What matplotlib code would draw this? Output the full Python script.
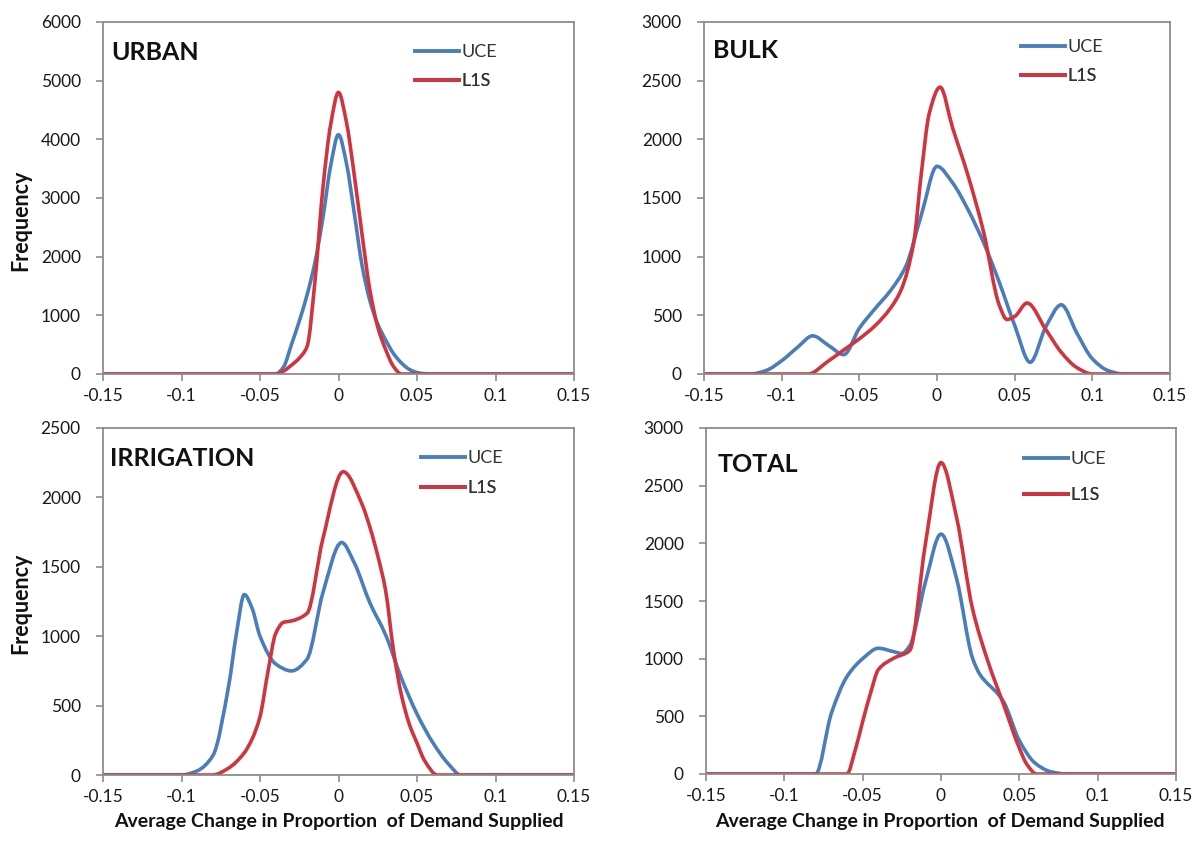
import numpy as np
import matplotlib
matplotlib.use("Agg")
import matplotlib.pyplot as plt
from matplotlib.path import Path
from matplotlib.patches import PathPatch
from matplotlib.lines import Line2D

plt.rcParams['font.family'] = ['Lato', 'DejaVu Sans']

# ---------------- data ----------------
series_names = ["UCE", "L1S"]
panel_titles = ["URBAN", "BULK", "IRRIGATION", "TOTAL"]
x_ticks = [-0.15, -0.1, -0.05, 0, 0.05, 0.1, 0.15]
x_tick_labels = ["-0.15", "-0.1", "-0.05", "0", "0.05", "0.1", "0.15"]
y_label = "Frequency"
x_label = "Average Change in Proportion  of Demand Supplied"

urban_uce_x = [-0.15, -0.04, -0.035, -0.03, -0.025, -0.02, -0.015, -0.01, -0.005, 0, 0.005, 0.01,
               0.015, 0.02, 0.025, 0.03, 0.035, 0.04, 0.045, 0.05, 0.055, 0.06, 0.15]
urban_uce_y = [0, 0, 120, 500, 900, 1350, 1900, 2650, 3550, 4080, 3600, 2750,
               1850, 1250, 850, 580, 350, 190, 80, 25, 5, 0, 0]
urban_l1s_x = [-0.15, -0.04, -0.035, -0.03, -0.025, -0.02, -0.015, -0.01, -0.005, 0, 0.005, 0.01,
               0.015, 0.02, 0.025, 0.03, 0.035, 0.04, 0.15]
urban_l1s_y = [0, 0, 50, 150, 270, 470, 1580, 3150, 4250, 4800, 4300, 3400,
               2380, 1430, 800, 420, 130, 0, 0]

bulk_uce_x = [-0.15, -0.12, -0.11, -0.1, -0.09, -0.08, -0.07, -0.06, -0.05, -0.04, -0.03, -0.02,
              -0.01, 0, 0.01, 0.02, 0.03, 0.04, 0.05, 0.06, 0.07, 0.08, 0.09, 0.1, 0.11, 0.12, 0.15]
bulk_uce_y = [0, 0, 30, 113, 225, 325, 245, 165, 390, 555, 710, 920,
              1360, 1770, 1630, 1400, 1120, 785, 415, 100, 400, 590, 350, 130, 30, 0, 0]
bulk_l1s_x = [-0.15, -0.083, -0.07, -0.06, -0.05, -0.04, -0.03, -0.023, -0.015, -0.01, -0.005, 0.002,
              0.01, 0.02, 0.03, 0.04, 0.045, 0.05, 0.058, 0.07, 0.08, 0.09, 0.1, 0.15]
bulk_l1s_y = [0, 0, 110, 205, 300, 410, 560, 720, 1120, 1720, 2220, 2445,
              2100, 1690, 1210, 590, 465, 490, 605, 380, 185, 55, 0, 0]

irr_uce_x = [-0.15, -0.1, -0.09, -0.08, -0.07, -0.065, -0.06, -0.055, -0.05, -0.04, -0.03, -0.02,
             -0.01, 0.002, 0.01, 0.02, 0.03, 0.04, 0.05, 0.06, 0.07, 0.078, 0.15]
irr_uce_y = [0, 0, 30, 140, 640, 1020, 1300, 1200, 1000, 800, 750, 835,
             1310, 1675, 1530, 1240, 1010, 700, 440, 235, 80, 0, 0]
irr_l1s_x = [-0.15, -0.08, -0.07, -0.06, -0.055, -0.05, -0.045, -0.04, -0.035, -0.03, -0.02, -0.01,
             0.003, 0.015, 0.02, 0.025, 0.03, 0.035, 0.04, 0.045, 0.05, 0.055, 0.063, 0.15]
irr_l1s_y = [0, 0, 50, 160, 260, 420, 740, 1020, 1100, 1110, 1165, 1700,
             2185, 1950, 1785, 1580, 1330, 900, 580, 370, 230, 100, 0, 0]

total_uce_x = [-0.15, -0.08, -0.07, -0.06, -0.05, -0.04, -0.03, -0.025, -0.02, -0.01, 0, 0.01,
               0.02, 0.025, 0.03, 0.035, 0.04, 0.05, 0.06, 0.07, 0.08, 0.15]
total_uce_y = [0, 0, 525, 845, 1000, 1090, 1060, 1045, 1110, 1660, 2080, 1690,
               1010, 860, 780, 715, 625, 290, 95, 20, 0, 0]
total_l1s_x = [-0.15, -0.06, -0.055, -0.05, -0.045, -0.04, -0.03, -0.02, -0.01, 0, 0.01, 0.02,
               0.03, 0.04, 0.05, 0.055, 0.061, 0.15]
total_l1s_y = [0, 0, 195, 455, 700, 905, 1005, 1070, 1990, 2700, 2220, 1440,
               975, 600, 225, 80, 0, 0]

y_max = [6000, 3000, 2500, 3000]
y_step = [1000, 500, 500, 500]

colors = {"UCE": "#4a7ebb", "L1S": "#d0353f"}

panels = [
    (urban_uce_x, urban_uce_y, urban_l1s_x, urban_l1s_y),
    (bulk_uce_x, bulk_uce_y, bulk_l1s_x, bulk_l1s_y),
    (irr_uce_x, irr_uce_y, irr_l1s_x, irr_l1s_y),
    (total_uce_x, total_uce_y, total_l1s_x, total_l1s_y),
]

# ---------------- layout (pixel based) ----------------
W, H = 1203, 849
boxes = [  # left, top, right, bottom in pixels
    (103, 22, 574, 374),
    (704, 22, 1170, 374),
    (103, 428, 574, 775),
    (706, 428, 1176, 774),
]
title_pos = [(111, 52), (713, 51), (110, 458), (718, 465)]
legend_rows = [((415, 52), (415, 81)), ((1021, 47), (1021, 76)),
               ((421, 458), (421, 488)), ((1024, 459), (1024, 495))]
ylabel_pos = [(20.5, 220), (20.5, 603)]
xlabel_pos = [(339, 822), (940, 821)]


def smooth_path(x, y):
    """Smooth monotone cubic path through the given points (drawn as Bezier curves)."""
    x = np.asarray(x, float)
    y = np.asarray(y, float)
    h = np.diff(x)
    d = np.diff(y) / h
    n = len(x)
    m = np.zeros(n)
    for i in range(1, n - 1):
        if d[i - 1] * d[i] <= 0:
            m[i] = 0.0
        else:
            w1 = 2 * h[i] + h[i - 1]
            w2 = h[i] + 2 * h[i - 1]
            m[i] = (w1 + w2) / (w1 / d[i - 1] + w2 / d[i])
    verts = [(x[0], y[0])]
    codes = [Path.MOVETO]
    for i in range(n - 1):
        verts += [(x[i] + h[i] / 3, y[i] + m[i] * h[i] / 3),
                  (x[i + 1] - h[i] / 3, y[i + 1] - m[i + 1] * h[i] / 3),
                  (x[i + 1], y[i + 1])]
        codes += [Path.CURVE4] * 3
    return Path(verts, codes)


fig = plt.figure(figsize=(W / 100, H / 100), dpi=100)
spine_col = "#8c8c8c"

for k, (box, data) in enumerate(zip(boxes, panels)):
    l, t, r, b = box
    ax = fig.add_axes([l / W, (H - b) / H, (r - l) / W, (b - t) / H])
    ax.set_xlim(-0.15, 0.15)
    ax.set_ylim(0, y_max[k])
    ax.set_xticks(x_ticks)
    ax.set_xticklabels(x_tick_labels)
    yt = np.arange(0, y_max[k] + 1, y_step[k])
    ax.set_yticks(yt)
    ax.set_yticklabels([str(int(v)) for v in yt])
    for s in ax.spines.values():
        s.set_color(spine_col)
        s.set_linewidth(1.3)
    ax.tick_params(axis='both', colors=spine_col, labelcolor="#1a1a1a", labelsize=12.5,
                   length=5, width=1.2, direction='out')
    ax.tick_params(axis='x', pad=5)
    ax.tick_params(axis='y', pad=11)

    ux, uy, lx, ly = data
    for name, xs, ys in (("UCE", ux, uy), ("L1S", lx, ly)):
        p = PathPatch(smooth_path(xs, ys), facecolor='none', edgecolor=colors[name],
                      lw=2.6, transform=ax.transData, capstyle='round', joinstyle='round')
        ax.add_patch(p)

    tx, ty = title_pos[k]
    ax.text((tx - l) / (r - l), 1 - (ty - t) / (b - t), panel_titles[k], transform=ax.transAxes,
            fontsize=18, fontweight='bold', ha='left', va='center', color='#111111')

    # legend: one single-entry legend per row so each row sits where the reference has it
    for j, name in enumerate(series_names):
        px, py = legend_rows[k][j]
        leg = ax.legend([Line2D([], [], color=colors[name], lw=2.8)], [name],
                        loc='center left',
                        bbox_to_anchor=((px - l) / (r - l), 1 - (py - t) / (b - t)),
                        frameon=False, fontsize=13, handlelength=2.45, handletextpad=0.1,
                        borderaxespad=0, borderpad=0)
        for txt in leg.get_texts():
            txt.set_color('#333333')
        ax.add_artist(leg)

for (px, py) in ylabel_pos:
    fig.text(px / W, 1 - py / H, y_label, rotation=90, ha='center', va='center',
             fontsize=15.5, fontweight='bold', color='#111111')
for (px, py) in xlabel_pos:
    fig.text(px / W, 1 - py / H, x_label, ha='center', va='center',
             fontsize=14, fontweight='bold', color='#111111')

fig.savefig("out.png", dpi=100, facecolor='white')
